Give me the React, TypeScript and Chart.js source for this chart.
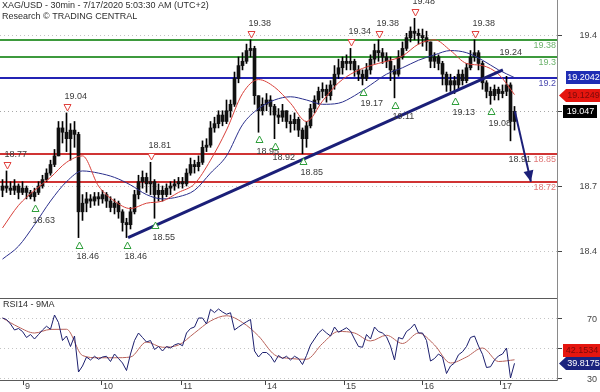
import React, { useEffect, useRef } from 'react';
import { Chart, registerables } from 'chart.js';
Chart.register(...registerables);

// ---------- text ----------
const titleLine = 'XAG/USD - 30min - 7/17/2020 5:03:30 AM (UTC+2)';
const creditLine = 'Research \u00A9 TRADING CENTRAL';
const rsiTitle = 'RSI14 - 9MA';

// ---------- candles (one entry per candle, oldest first) ----------
const opens = [
  18.68, 18.70, 18.69, 18.68, 18.70, 18.67, 18.69, 18.67, 18.65, 18.67,
  18.70, 18.73, 18.76, 18.80, 18.84, 18.97, 18.95, 18.92, 18.96, 18.94,
  18.58, 18.62, 18.64, 18.63, 18.65, 18.64, 18.66, 18.63, 18.60, 18.62,
  18.58, 18.53, 18.52, 18.58, 18.66, 18.72, 18.74, 18.71, 18.72, 18.66,
  18.68, 18.66, 18.69, 18.70, 18.71, 18.72, 18.71, 18.76, 18.80, 18.79,
  18.81, 18.88, 18.89, 18.97, 18.99, 19.03, 19.00, 19.05, 19.08, 19.20,
  19.26, 19.28, 19.33, 19.34, 19.12, 19.05, 19.08, 19.10, 19.07, 19.03,
  19.02, 19.05, 19.00, 18.99, 19.01, 18.96, 18.92, 18.98, 19.06, 19.10,
  19.14, 19.15, 19.12, 19.17, 19.22, 19.25, 19.28, 19.27, 19.28, 19.24,
  19.22, 19.20, 19.24, 19.29, 19.33, 19.32, 19.30, 19.28, 19.24, 19.22,
  19.30, 19.34, 19.39, 19.42, 19.41, 19.40, 19.39, 19.37, 19.28, 19.30,
  19.27, 19.22, 19.17, 19.19, 19.17, 19.22, 19.19, 19.25, 19.30, 19.32,
  19.27, 19.18, 19.14, 19.12, 19.15, 19.13, 19.14, 19.17, 19.00
];
const highs = [
  18.73, 18.77, 18.72, 18.73, 18.71, 18.72, 18.70, 18.68, 18.69, 18.72,
  18.75, 18.78, 18.82, 18.87, 19.00, 19.00, 19.04, 18.99, 19.00, 18.95,
  18.66, 18.67, 18.66, 18.67, 18.67, 18.68, 18.67, 18.65, 18.64, 18.63,
  18.59, 18.55, 18.60, 18.68, 18.75, 18.77, 18.76, 18.81, 18.73, 18.71,
  18.70, 18.71, 18.72, 18.73, 18.74, 18.74, 18.78, 18.83, 18.82, 18.84,
  18.91, 18.92, 19.00, 19.02, 19.05, 19.05, 19.10, 19.10, 19.23, 19.30,
  19.32, 19.36, 19.38, 19.35, 19.12, 19.11, 19.13, 19.12, 19.08, 19.06,
  19.08, 19.05, 19.03, 19.04, 19.02, 18.97, 19.00, 19.08, 19.12, 19.16,
  19.18, 19.17, 19.19, 19.26, 19.29, 19.30, 19.31, 19.34, 19.29, 19.26,
  19.24, 19.27, 19.31, 19.36, 19.38, 19.34, 19.32, 19.30, 19.26, 19.33,
  19.37, 19.41, 19.44, 19.48, 19.43, 19.43, 19.42, 19.37, 19.32, 19.31,
  19.28, 19.23, 19.22, 19.21, 19.24, 19.24, 19.27, 19.33, 19.38, 19.33,
  19.28, 19.19, 19.16, 19.17, 19.16, 19.17, 19.21, 19.18, 19.07
];
const lows = [
  18.65, 18.67, 18.66, 18.66, 18.64, 18.66, 18.64, 18.64, 18.63, 18.66,
  18.69, 18.72, 18.75, 18.79, 18.84, 18.90, 18.86, 18.82, 18.88, 18.46,
  18.54, 18.58, 18.60, 18.61, 18.61, 18.62, 18.60, 18.58, 18.57, 18.55,
  18.49, 18.46, 18.50, 18.57, 18.64, 18.69, 18.67, 18.66, 18.55, 18.63,
  18.63, 18.65, 18.66, 18.68, 18.69, 18.69, 18.70, 18.75, 18.76, 18.77,
  18.80, 18.86, 18.88, 18.95, 18.97, 18.98, 18.99, 19.02, 19.07, 19.18,
  19.24, 19.27, 19.30, 19.08, 18.95, 19.03, 19.05, 19.03, 18.92, 18.99,
  19.00, 18.97, 18.95, 18.96, 18.93, 18.85, 18.88, 18.97, 19.04, 19.08,
  19.11, 19.09, 19.10, 19.15, 19.20, 19.22, 19.24, 19.24, 19.21, 19.19,
  19.17, 19.19, 19.22, 19.27, 19.28, 19.27, 19.25, 19.19, 19.11, 19.21,
  19.29, 19.33, 19.37, 19.38, 19.36, 19.35, 19.33, 19.25, 19.25, 19.24,
  19.17, 19.14, 19.14, 19.13, 19.15, 19.17, 19.18, 19.24, 19.28, 19.24,
  19.15, 19.11, 19.08, 19.10, 19.10, 19.11, 19.12, 18.91, 18.96
];
const closes = [
  18.70, 18.69, 18.68, 18.70, 18.67, 18.69, 18.67, 18.65, 18.67, 18.70,
  18.73, 18.76, 18.80, 18.84, 18.97, 18.95, 18.92, 18.96, 18.94, 18.58,
  18.62, 18.64, 18.63, 18.65, 18.64, 18.66, 18.63, 18.60, 18.62, 18.58,
  18.53, 18.52, 18.58, 18.66, 18.72, 18.74, 18.71, 18.72, 18.66, 18.68,
  18.66, 18.69, 18.70, 18.71, 18.72, 18.71, 18.76, 18.80, 18.79, 18.81,
  18.88, 18.89, 18.97, 18.99, 19.03, 19.00, 19.05, 19.08, 19.20, 19.26,
  19.28, 19.33, 19.34, 19.12, 19.05, 19.08, 19.10, 19.07, 19.03, 19.02,
  19.05, 19.00, 18.99, 19.01, 18.96, 18.92, 18.98, 19.06, 19.10, 19.14,
  19.15, 19.12, 19.17, 19.22, 19.25, 19.28, 19.27, 19.28, 19.24, 19.22,
  19.20, 19.24, 19.29, 19.33, 19.32, 19.30, 19.28, 19.24, 19.22, 19.30,
  19.34, 19.39, 19.42, 19.41, 19.40, 19.39, 19.37, 19.28, 19.30, 19.27,
  19.22, 19.17, 19.19, 19.17, 19.22, 19.19, 19.25, 19.30, 19.32, 19.27,
  19.18, 19.14, 19.12, 19.15, 19.13, 19.14, 19.17, 19.00, 19.047
];

// ---------- RSI(14), one value per candle ----------
const rsi14 = [
  70, 69, 66, 62, 63, 61, 57, 59, 56, 59,
  62, 64.5, 62.5, 72, 67, 55, 58, 51, 58, 34,
  38, 44, 42, 44.5, 42.5, 44, 44.5, 41, 46, 43,
  40, 35, 46, 55, 60, 57, 54, 55, 49, 51,
  48, 51, 50, 52, 53, 51.5, 60, 63, 64, 70,
  70, 66, 75.8, 73.6, 76, 74, 72.5, 73.5, 62, 64,
  65.8, 67.5, 69, 48, 44, 47, 47, 44.7, 40.5, 45,
  43, 44.5, 42, 44.5, 43, 39, 45, 52, 56, 60,
  62.4, 60, 58, 64, 60.5, 62, 63.5, 61.3, 56, 51,
  50.5, 59, 56, 64, 61, 60, 57.5, 51.3, 42, 57,
  56, 61, 63, 66, 60, 60, 55, 41.3, 43, 46,
  44, 33, 38, 40, 45.5, 47.5, 51, 57, 58, 51.3,
  45.8, 37, 37.5, 42, 44.7, 46, 50, 30, 39.8
];

// ---------- moving averages, sampled every 4th candle ----------
const maStep = 4;
const redMa = [
  18.505, 18.61, 18.68, 18.74, 18.81, 18.84, 18.70, 18.63, 18.595, 18.62,
  18.63, 18.67, 18.71, 18.82, 18.96, 19.13, 19.195, 19.16, 19.085, 19.00,
  19.095, 19.18, 19.23, 19.26, 19.28, 19.305, 19.36, 19.38, 19.33, 19.27,
  19.26, 19.22, 19.125
];
const blueMa = [
  18.36, 18.42, 18.52, 18.63, 18.72, 18.77, 18.76, 18.74, 18.705, 18.66,
  18.64, 18.65, 18.68, 18.76, 18.84, 18.985, 19.06, 19.10, 19.115, 19.10,
  19.08, 19.085, 19.12, 19.17, 19.22, 19.25, 19.285, 19.31, 19.33, 19.32,
  19.285, 19.24, 19.2042
];
const rsiMa9 = [
  70, 64, 60, 62.4, 62.5, 45, 43.5, 43.5, 44, 54,
  50.5, 52, 60, 68, 71.5, 67, 58, 45.5, 43, 42.5,
  53, 61, 60, 54.7, 58.5, 53, 60, 52, 40, 44,
  50, 41, 42.15
];

// ---------- axes ----------
const dayLabels = ['9', '10', '11', '14', '15', '16', '17'];
const dayStart = [5, 24.7, 44.5, 65.5, 85.25, 104.75, 124.25]; // candle index where each day begins
const priceTicks = [19.4, 18.7, 18.4];
const rsiTicks = [70, 50, 30];

// ---------- analyst levels ----------
const levelValues = [19.38, 19.3, 19.2, 18.85, 18.72];
const levelLabels = ['19.38', '19.3', '19.2', '18.85', '18.72'];
const levelKinds = ['res', 'res', 'pivot', 'sup', 'sup'];

// ---------- swing markers ----------
const highMarkIdx = [1, 16, 37, 62, 87, 94, 103, 118];
const highMarkVal = [18.77, 19.04, 18.81, 19.38, 19.34, 19.38, 19.48, 19.38];
const lowMarkIdx = [8, 19, 31, 38, 64, 68, 75, 90, 98, 113, 122];
const lowMarkVal = [18.63, 18.46, 18.46, 18.55, 18.95, 18.92, 18.85, 19.17, 19.11, 19.13, 19.08];
const highNoteIdx = [126];
const highNoteVal = [19.24];
const lowNoteIdx = [127];
const lowNoteVal = [18.91];

// ---------- trend line & projection ----------
const trendIdx = [31.4, 125.1];
const trendVal = [18.46, 19.24];
const arrowIdx = [128.1, 132.1];
const arrowVal = [19.047, 18.72];

// ---------- last values ----------
const lastClose = 19.047;
const lastRedMa = 19.1249;
const lastBlueMa = 19.2042;
const lastRsi = 39.8175;
const lastRsiMa = 42.1534;

// ---------- styles ----------
const FONT = '9px "Liberation Sans", Arial, sans-serif';
const NAVY = '#1b1f78';
const LEVEL_LINE: any = { res: '#3d9a3d', pivot: '#2323b4', sup: '#d03434' };
const LEVEL_TEXT: any = { res: '#6cb26c', pivot: '#4b4bb0', sup: '#e07878' };

function hline(ctx: any, x0: number, x1: number, y: number) {
  ctx.beginPath(); ctx.moveTo(x0, y); ctx.lineTo(x1, y); ctx.stroke();
}

function box(ctx: any, text: string, yc: number, x0: number, x1: number, bg: string, fg: string, arrow: boolean) {
  const h = 13;
  const top = Math.round(yc - h / 2);
  ctx.fillStyle = bg;
  ctx.beginPath();
  if (arrow) {
    ctx.moveTo(x0 - 7, top + h / 2);
    ctx.lineTo(x0, top);
    ctx.lineTo(x1, top);
    ctx.lineTo(x1, top + h);
    ctx.lineTo(x0, top + h);
    ctx.closePath();
  } else {
    ctx.rect(x0, top, x1 - x0, h);
  }
  ctx.fill();
  ctx.fillStyle = fg;
  ctx.textAlign = 'center';
  ctx.textBaseline = 'middle';
  ctx.fillText(text, (x0 + x1) / 2 + 0.5, top + h / 2 + 0.5);
}

const overlay = {
  id: 'overlay',
  beforeDatasetsDraw(chart: any) {
    const { ctx, chartArea: a, scales } = chart;
    const ys = scales.y, rs = scales.rsi;
    ctx.save();
    ctx.lineWidth = 1;
    ctx.setLineDash([1, 3]);
    ctx.strokeStyle = '#c4c4c4';
    priceTicks.forEach((v) => hline(ctx, a.left, a.right, Math.round(ys.getPixelForValue(v)) + 0.5));
    rsiTicks.forEach((v) => hline(ctx, a.left, a.right, Math.round(rs.getPixelForValue(v)) + 0.5));
    ctx.strokeStyle = '#a8a8a8';
    hline(ctx, a.left, a.right, Math.round(ys.getPixelForValue(lastClose)) + 0.5);
    ctx.setLineDash([]);
    // analyst levels
    ctx.font = FONT;
    levelValues.forEach((v, k) => {
      const py = Math.round(ys.getPixelForValue(v));
      ctx.strokeStyle = LEVEL_LINE[levelKinds[k]];
      ctx.lineWidth = 2;
      hline(ctx, a.left, a.right, py);
      ctx.fillStyle = LEVEL_TEXT[levelKinds[k]];
      ctx.textAlign = 'right';
      ctx.textBaseline = 'middle';
      ctx.fillText(levelLabels[k], a.right - 1, py + 6);
    });
    ctx.restore();
  },
  afterDatasetsDraw(chart: any) {
    const { ctx, scales } = chart;
    const xs = scales.x, ys = scales.y;
    ctx.save();
    ctx.font = FONT;

    // arrow head
    const ax0 = xs.getPixelForValue(arrowIdx[0]), ay0 = ys.getPixelForValue(arrowVal[0]);
    const ax1 = xs.getPixelForValue(arrowIdx[1]), ay1 = ys.getPixelForValue(arrowVal[1]);
    const ang = Math.atan2(ay1 - ay0, ax1 - ax0);
    ctx.fillStyle = NAVY;
    ctx.beginPath();
    ctx.moveTo(ax1, ay1);
    ctx.lineTo(ax1 - 11 * Math.cos(ang) + 5 * Math.sin(ang), ay1 - 11 * Math.sin(ang) - 5 * Math.cos(ang));
    ctx.lineTo(ax1 - 11 * Math.cos(ang) - 5 * Math.sin(ang), ay1 - 11 * Math.sin(ang) + 5 * Math.cos(ang));
    ctx.closePath();
    ctx.fill();

    // swing markers
    ctx.lineWidth = 1;
    ctx.textAlign = 'left';
    ctx.textBaseline = 'middle';
    highMarkIdx.forEach((i, k) => {
      const px = Math.round(xs.getPixelForValue(i)) + 0.5;
      const py = ys.getPixelForValue(highMarkVal[k]);
      const cy = Math.round(py - 6) + 0.5;
      ctx.fillStyle = '#fff';
      ctx.strokeStyle = '#e0403c';
      ctx.beginPath();
      ctx.moveTo(px - 3.5, cy - 3);
      ctx.lineTo(px + 3.5, cy - 3);
      ctx.lineTo(px, cy + 3.5);
      ctx.closePath();
      ctx.fill(); ctx.stroke();
      ctx.fillStyle = '#3a3a3a';
      ctx.fillText(highMarkVal[k].toFixed(2), px - 3, py - 16.5);
    });
    lowMarkIdx.forEach((i, k) => {
      const px = Math.round(xs.getPixelForValue(i)) + 0.5;
      const py = ys.getPixelForValue(lowMarkVal[k]);
      const cy = Math.round(py + 7) + 0.5;
      ctx.fillStyle = '#fff';
      ctx.strokeStyle = '#2e9e3a';
      ctx.beginPath();
      ctx.moveTo(px - 3.5, cy + 3);
      ctx.lineTo(px + 3.5, cy + 3);
      ctx.lineTo(px, cy - 3.5);
      ctx.closePath();
      ctx.fill(); ctx.stroke();
      ctx.fillStyle = '#3a3a3a';
      ctx.fillText(lowMarkVal[k].toFixed(2), px - 3, py + 19);
    });
    ctx.fillStyle = '#3a3a3a';
    highNoteIdx.forEach((i, k) => {
      const px = xs.getPixelForValue(i);
      ctx.fillText(highNoteVal[k].toFixed(2), px - 7, ys.getPixelForValue(highNoteVal[k]) - 17);
    });
    lowNoteIdx.forEach((i, k) => {
      const px = xs.getPixelForValue(i);
      ctx.fillText(lowNoteVal[k].toFixed(2), px - 2, ys.getPixelForValue(lowNoteVal[k]) + 19);
    });
    ctx.restore();
  },
  afterDraw(chart: any) {
    const { ctx, chartArea: a, scales } = chart;
    const xs = scales.x, ys = scales.y, rs = scales.rsi;
    ctx.save();
    ctx.font = FONT;
    ctx.lineWidth = 1;

    // panel frame
    ctx.strokeStyle = '#5a5a5a';
    hline(ctx, a.left, a.right + 1, 298.5);
    hline(ctx, a.left, a.right + 1, a.bottom + 0.5);
    ctx.strokeStyle = '#8a8a8a';
    ctx.beginPath(); ctx.moveTo(a.right + 0.5, a.top); ctx.lineTo(a.right + 0.5, a.bottom + 1); ctx.stroke();

    // price axis
    ctx.fillStyle = '#444';
    ctx.textAlign = 'right';
    ctx.textBaseline = 'middle';
    priceTicks.forEach((v) => {
      const py = Math.round(ys.getPixelForValue(v));
      ctx.fillRect(a.right + 1, py, 4, 1);
      ctx.fillStyle = '#444';
      ctx.fillText(v.toFixed(1), 597, py + 1);
    });
    ctx.fillRect(a.right + 1, Math.round(ys.getPixelForValue(lastClose)), 4, 1);
    box(ctx, lastBlueMa.toFixed(4), ys.getPixelForValue(lastBlueMa), 566, 600, '#1f2db4', '#ffffff', false);
    box(ctx, lastRedMa.toFixed(4), ys.getPixelForValue(lastRedMa) + 1, 566, 600, '#e5160f', '#7a0a0a', true);
    box(ctx, lastClose.toFixed(3), ys.getPixelForValue(lastClose), 563, 597, '#000000', '#ffffff', false);

    // RSI axis
    ctx.fillStyle = '#444';
    rsiTicks.forEach((v) => {
      const py = Math.round(rs.getPixelForValue(v));
      ctx.fillStyle = '#444';
      ctx.fillRect(a.right + 1, py, 4, 1);
      ctx.textAlign = 'right';
      ctx.fillText(String(v), 597, py + 2);
    });
    const blueY = rs.getPixelForValue(lastRsi);
    const redY = Math.min(rs.getPixelForValue(lastRsiMa), blueY - 13);
    box(ctx, lastRsiMa.toFixed(4), redY, 563, 600, '#e5160f', '#7a0a0a', false);
    box(ctx, lastRsi.toFixed(4), blueY, 566, 600, '#1b237e', '#ffffff', true);

    // time axis
    ctx.fillStyle = '#444';
    ctx.textAlign = 'left';
    ctx.textBaseline = 'middle';
    dayStart.forEach((d, k) => {
      const px = Math.round(xs.getPixelForValue(d));
      ctx.fillRect(px, a.bottom + 1, 1, 4);
      ctx.fillText(dayLabels[k], px + 2, 387);
    });

    // titles
    ctx.fillStyle = '#2e2e2e';
    ctx.fillText(titleLine, 2, 6);
    ctx.fillText(creditLine, 2, 17);
    ctx.fillText(rsiTitle, 3, 305);
    ctx.restore();
  },
};

export default function App() {
  const ref = useRef<HTMLCanvasElement>(null);
  useEffect(() => {
    document.body.style.margin = '0';
    const canvas = ref.current;
    if (!canvas) return;
    const chart = new Chart(canvas, {
      type: 'bar',
      data: {
        datasets: [
          {
            type: 'line', label: 'projection',
            data: arrowIdx.map((x, k) => ({ x, y: arrowVal[k] })),
            yAxisID: 'y', borderColor: NAVY, borderWidth: 2, pointRadius: 0, order: 0,
          },
          {
            type: 'line', label: 'trend',
            data: trendIdx.map((x, k) => ({ x, y: trendVal[k] })),
            yAxisID: 'y', borderColor: NAVY, borderWidth: 3, pointRadius: 0, order: 1,
          },
          {
            type: 'line', label: 'MA fast',
            data: redMa.map((v, k) => ({ x: k * maStep, y: v })),
            yAxisID: 'y', borderColor: '#d8403a', borderWidth: 1, pointRadius: 0,
            cubicInterpolationMode: 'monotone', order: 2,
          },
          {
            type: 'line', label: 'MA slow',
            data: blueMa.map((v, k) => ({ x: k * maStep, y: v })),
            yAxisID: 'y', borderColor: '#2a2f8c', borderWidth: 1, pointRadius: 0,
            cubicInterpolationMode: 'monotone', order: 3,
          },
          {
            type: 'bar', label: 'bodies',
            data: closes.map((c, i) => ({ x: i, y: [opens[i], c] })),
            yAxisID: 'y', backgroundColor: '#111111',
            borderWidth: 0, barThickness: 3, grouped: false, minBarLength: 1, order: 4,
          },
          {
            type: 'bar', label: 'wicks',
            data: lows.map((l, i) => ({ x: i, y: [l, highs[i]] })),
            yAxisID: 'y', backgroundColor: '#000000', barThickness: 1, grouped: false, order: 5,
          },
          {
            type: 'line', label: 'RSI14',
            data: rsi14.map((v, i) => ({ x: i, y: v })),
            yAxisID: 'rsi', borderColor: '#1c1f6e', borderWidth: 1, pointRadius: 0, order: 2,
          },
          {
            type: 'line', label: 'RSI 9MA',
            data: rsiMa9.map((v, k) => ({ x: k * maStep, y: v })),
            yAxisID: 'rsi', borderColor: '#b8625a', borderWidth: 1, pointRadius: 0,
            cubicInterpolationMode: 'monotone', order: 3,
          },
        ] as any,
      },
      options: {
        responsive: false,
        animation: false,
        events: [],
        layout: { padding: { left: 0, right: 43, top: 0, bottom: 12 } },
        plugins: { legend: { display: false }, tooltip: { enabled: false } },
        scales: {
          x: { type: 'linear', min: -0.625, max: 138.625, display: false, offset: false },
          y: { type: 'linear', axis: 'y', position: 'right', min: 17.7977, max: 19.5651, display: false },
          rsi: { type: 'linear', axis: 'y', position: 'right', min: 28.667, max: 282, display: false },
        } as any,
      },
      plugins: [overlay as any],
    });
    return () => chart.destroy();
  }, []);
  return <canvas ref={ref} width={600} height={392} style={{ display: 'block', width: 600, height: 392 }} />;
}
